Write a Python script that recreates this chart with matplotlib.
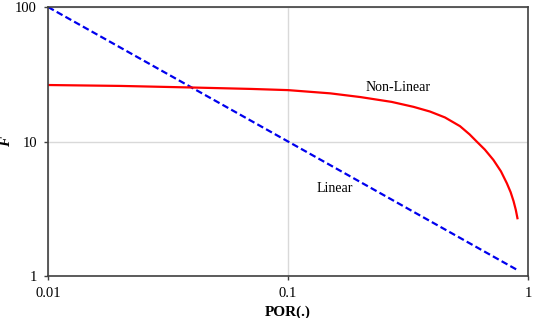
import matplotlib
matplotlib.use("Agg")
import matplotlib.pyplot as plt
from matplotlib.ticker import FixedLocator, NullLocator, FixedFormatter

plt.rcParams['font.family'] = ['Liberation Serif', 'DejaVu Serif']

# Linear model (straight line on log-log axes)
por_linear = [0.01, 0.9]
f_linear = [100, 1.11]

# Non-linear model
por_nonlinear = [0.01, 0.02, 0.04, 0.07, 0.1, 0.15, 0.2, 0.27, 0.333, 0.39, 0.45,
                 0.52, 0.57, 0.61, 0.66, 0.716, 0.77, 0.815, 0.845, 0.869, 0.888, 0.902]
f_nonlinear = [26.3, 25.9, 25.2, 24.6, 24.1, 22.8, 21.4, 19.7, 18.1, 16.7, 15.1,
               13.0, 11.3, 10.0, 8.7, 7.3, 6.0, 4.89, 4.2, 3.6, 3.1, 2.69]

x_ticks = [0.01, 0.1, 1]
x_tick_labels = ["0.01", "0.1", "1"]
y_ticks = [1, 10, 100]
y_tick_labels = ["1", "10", "100"]

fig = plt.figure(figsize=(5.33, 3.18), dpi=100)
ax = fig.add_axes([0.090, 0.132, 0.901, 0.846])

ax.plot(por_linear, f_linear, color="#0000ee", linestyle=(0, (3, 1.5)), linewidth=1.6)
ax.plot(por_nonlinear, f_nonlinear, color="#ff0000", linewidth=1.6)

ax.set_xscale("log")
ax.set_yscale("log")
ax.set_xlim(0.01, 1)
ax.set_ylim(1, 100)

ax.xaxis.set_major_locator(FixedLocator(x_ticks))
ax.xaxis.set_major_formatter(FixedFormatter(x_tick_labels))
ax.xaxis.set_minor_locator(NullLocator())
ax.yaxis.set_major_locator(FixedLocator(y_ticks))
ax.yaxis.set_major_formatter(FixedFormatter(y_tick_labels))
ax.yaxis.set_minor_locator(NullLocator())

ax.grid(True, color="#d9d9d9", linewidth=1.0)
ax.set_axisbelow(True)
for s in ax.spines.values():
    s.set_color("#404040")
    s.set_linewidth(1.2)
ax.tick_params(axis="both", length=3, width=1, color="#404040", labelsize=10.5, pad=5)

ax.text(0.211, 25.4, "Non-Linear", fontsize=10, ha="left", va="center")
ax.text(0.131, 4.5, "Linear", fontsize=10, ha="left", va="center")

ax.set_xlabel("POR(.)", fontsize=11, fontweight="bold", labelpad=4)
ax.set_ylabel("F", fontsize=11, fontweight="bold", fontstyle="italic")
ax.yaxis.set_label_coords(-0.072, 0.5)

fig.savefig("out.png", dpi=100)
